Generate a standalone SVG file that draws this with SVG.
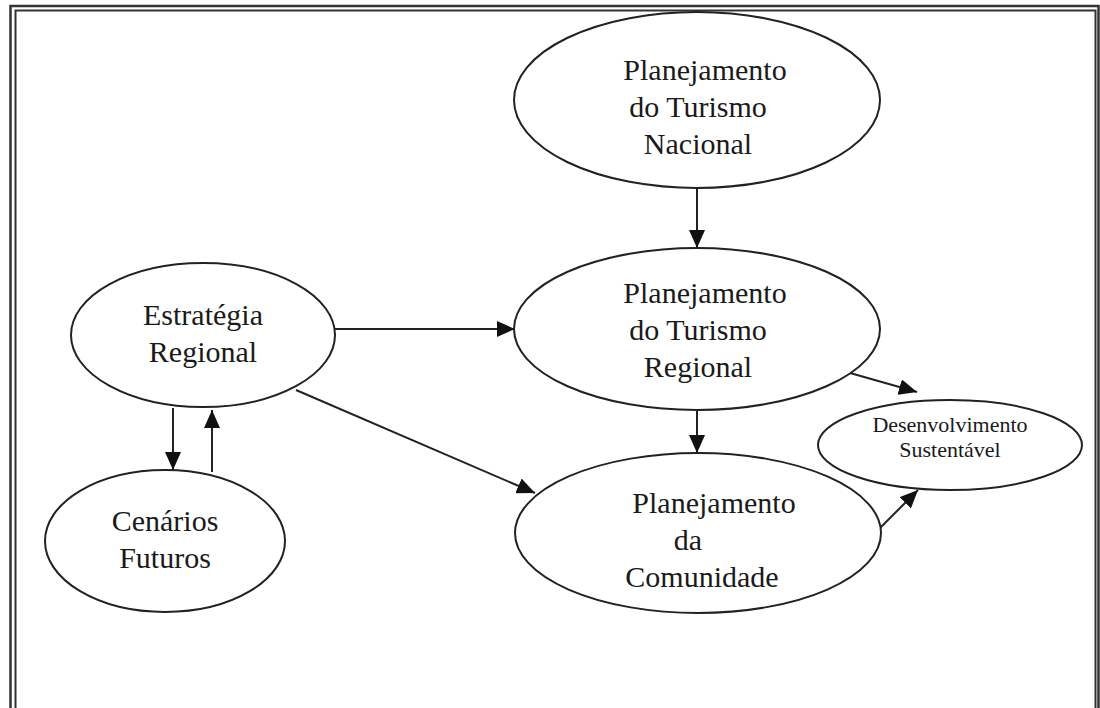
<svg xmlns="http://www.w3.org/2000/svg" width="1100" height="708" viewBox="0 0 1100 708">
<defs>
<style>
.node{fill:#fff;stroke:#222;stroke-width:2}
.lbl{font-family:"Liberation Serif","Times New Roman",serif;font-size:30px;fill:#1a1a1a;text-anchor:middle}
.sm{font-size:22px}
.edge{stroke:#222;stroke-width:2;fill:none;marker-end:url(#ah)}
.frame{fill:none;stroke:#333}
</style>
<marker id="ah" viewBox="0 0 18 16" refX="18" refY="8" markerWidth="18" markerHeight="16" markerUnits="userSpaceOnUse" orient="auto">
<path d="M0,0 L18,8 L0,16 Z" fill="#111"/>
</marker>
</defs>
<rect width="1100" height="708" fill="#fff"/>
<rect class="frame" x="10.5" y="6" width="1088" height="720" stroke-width="2.5"/>
<rect class="frame" x="15.5" y="10.5" width="1080" height="720" stroke-width="2"/>
<g id="connectors">
<line class="edge" x1="697" y1="188" x2="697" y2="248"/>
<line class="edge" x1="335" y1="329" x2="515" y2="329"/>
<line class="edge" x1="296" y1="390" x2="535" y2="493"/>
<line class="edge" x1="173" y1="408" x2="173" y2="470"/>
<line class="edge" x1="212" y1="472" x2="212" y2="410"/>
<line class="edge" x1="697" y1="410" x2="697" y2="453"/>
<line class="edge" x1="843" y1="371" x2="917" y2="392"/>
<line class="edge" x1="880" y1="528" x2="918" y2="490"/>
</g>
<g id="nacional">
<ellipse class="node" cx="697" cy="100" rx="183" ry="88"/>
<text class="lbl" x="705" y="80">Planejamento</text>
<text class="lbl" x="698" y="117">do Turismo</text>
<text class="lbl" x="698" y="154">Nacional</text>
</g>
<g id="regional">
<ellipse class="node" cx="697" cy="329" rx="183" ry="81"/>
<text class="lbl" x="705" y="303">Planejamento</text>
<text class="lbl" x="698" y="340">do Turismo</text>
<text class="lbl" x="698" y="377">Regional</text>
</g>
<g id="estrategia">
<ellipse class="node" cx="203" cy="335" rx="132" ry="72"/>
<text class="lbl" x="203" y="325">Estratégia</text>
<text class="lbl" x="203" y="362">Regional</text>
</g>
<g id="cenarios">
<ellipse class="node" cx="165" cy="541" rx="120" ry="71"/>
<text class="lbl" x="165" y="531">Cenários</text>
<text class="lbl" x="165" y="568">Futuros</text>
</g>
<g id="comunidade">
<ellipse class="node" cx="698" cy="533" rx="183" ry="80"/>
<text class="lbl" x="714" y="513">Planejamento</text>
<text class="lbl" x="688" y="550">da</text>
<text class="lbl" x="702" y="587">Comunidade</text>
</g>
<g id="desenvolvimento">
<ellipse class="node" cx="950" cy="445" rx="132" ry="45"/>
<text class="lbl sm" x="950" y="432">Desenvolvimento</text>
<text class="lbl sm" x="950" y="457">Sustentável</text>
</g>
</svg>
